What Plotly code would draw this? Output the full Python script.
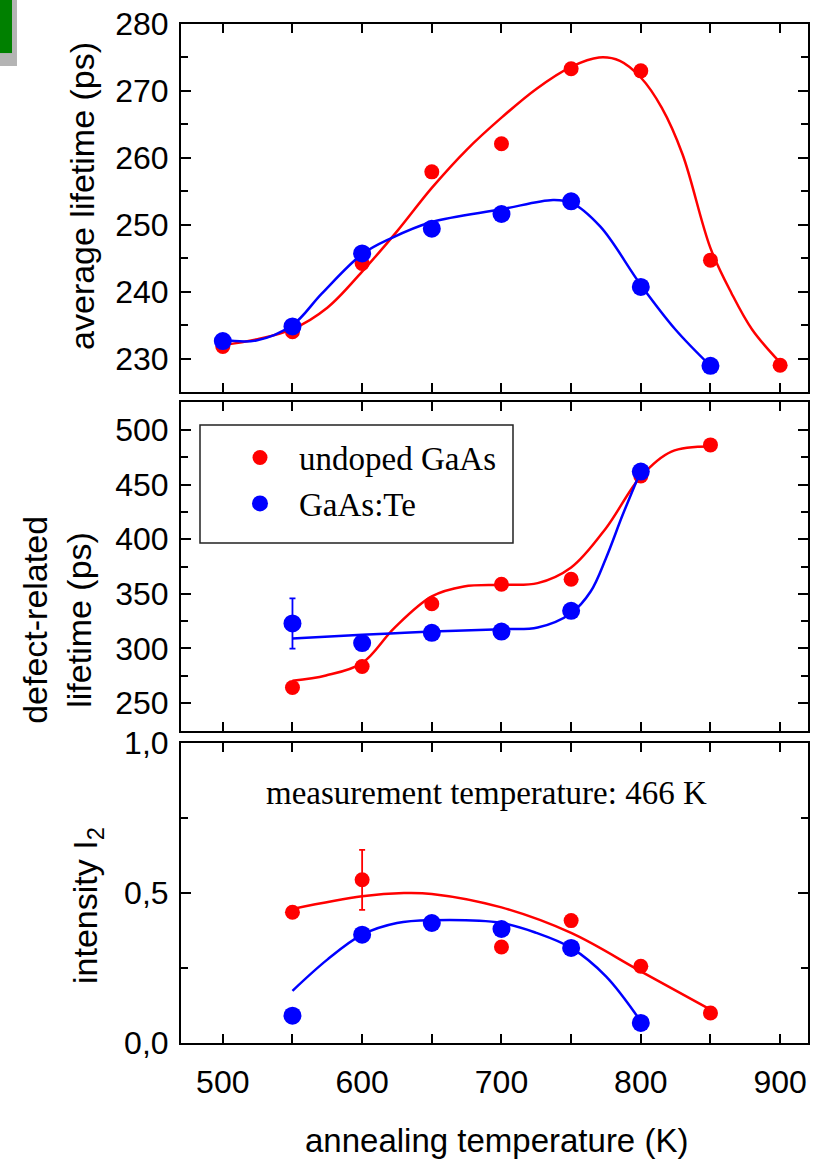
import plotly.graph_objects as go

# ---------------- data ----------------
# top panel: average lifetime (ps)
T_avg_red = [500, 550, 600, 650, 700, 750, 800, 850, 900]
avg_red = [231.8, 234.0, 244.2, 257.9, 262.1, 273.3, 273.0, 244.7, 229.0]
T_avg_blue = [500, 550, 600, 650, 700, 750, 800, 850]
avg_blue = [232.6, 234.8, 245.7, 249.4, 251.6, 253.5, 240.7, 228.9]

# fitted guide curves
T_avg_red_fit = [500, 525, 550, 575, 600, 625, 650, 675, 700, 725, 750, 770, 785, 800, 815, 830, 850, 865, 880, 900]
avg_red_fit = [232.0, 232.9, 234.4, 237.6, 243.0, 249.0, 255.5, 261.2, 266.0, 270.3, 273.6, 275.0, 274.5, 272.0, 267.5, 260.5, 246.5, 239.8, 234.3, 229.4]
T_avg_blue_fit = [500, 524, 550, 571, 600, 621, 650, 700, 737, 750, 771, 800, 825, 850]
avg_blue_fit = [232.8, 232.7, 235.0, 239.7, 245.6, 248.0, 250.4, 252.3, 253.7, 253.3, 249.7, 241.0, 234.3, 228.9]

# middle panel: defect-related lifetime (ps)
T_def_red = [550, 600, 650, 700, 750, 800, 850]
def_red = [264.3, 283.5, 340.9, 358.8, 363.4, 457.9, 486.3]
T_def_blue = [550, 600, 650, 700, 750, 800]
def_blue = [322.9, 304.9, 314.3, 315.5, 334.5, 461.9]
def_blue_err = [23, 0, 0, 0, 0, 0]

T_def_red_fit = [550, 574, 600, 623, 650, 673, 700, 726, 750, 775, 800, 822, 850]
def_red_fit = [270.4, 275.3, 286.6, 318.6, 347.6, 356.7, 358.2, 359.8, 374.1, 410.1, 457.3, 480.2, 484.8]
T_def_blue_fit = [550, 600, 650, 700, 726, 750, 764, 775, 787, 800]
def_blue_fit = [309.1, 312.5, 315.5, 317.7, 319.2, 332.3, 352.1, 382.6, 422.3, 462.5]

# bottom panel: intensity I2
T_int_red = [550, 600, 700, 750, 800, 850]
int_red = [0.436, 0.544, 0.32, 0.408, 0.256, 0.10]
int_red_err = [0, 0.10, 0, 0, 0, 0]
T_int_blue = [550, 600, 650, 700, 750, 800]
int_blue = [0.091, 0.361, 0.40, 0.38, 0.317, 0.067]

T_int_red_fit = [550, 600, 630, 650, 700, 750, 800, 850]
int_red_fit = [0.447, 0.489, 0.500, 0.497, 0.452, 0.367, 0.239, 0.111]
T_int_blue_fit = [550, 575, 600, 625, 650, 700, 725, 750, 775, 800]
int_blue_fit = [0.174, 0.278, 0.361, 0.400, 0.409, 0.400, 0.367, 0.317, 0.222, 0.072]

series_names = ["undoped GaAs", "GaAs:Te"]
x_tickvals = [500, 600, 700, 800, 900]
y3_tickvals = [0, 0.5, 1.0]
y3_ticktext = ["0,0", "0,5", "1,0"]

RED = "#ff0000"
BLUE = "#0000ff"
SANS = "Liberation Sans, Arial, sans-serif"
SERIF = "Liberation Serif, Times New Roman, serif"

fig = go.Figure()


def add_fit(x, y, color, xa, ya):
    fig.add_trace(go.Scatter(x=x, y=y, mode="lines", xaxis=xa, yaxis=ya,
                             line=dict(color=color, width=2.5, shape="spline", smoothing=1.0),
                             showlegend=False, hoverinfo="skip"))


def add_pts(x, y, color, size, xa, ya, name=None, legend=False, err=None):
    kw = {}
    if err is not None:
        kw["error_y"] = dict(type="data", array=err, color=color, thickness=1.8, width=3, visible=True)
    fig.add_trace(go.Scatter(x=x, y=y, mode="markers", xaxis=xa, yaxis=ya,
                             marker=dict(color=color, size=size, line=dict(width=0)),
                             name=name, showlegend=legend, **kw))


# top
add_fit(T_avg_red_fit, avg_red_fit, RED, "x", "y")
add_pts(T_avg_red, avg_red, RED, 15, "x", "y", series_names[0], True)
add_fit(T_avg_blue_fit, avg_blue_fit, BLUE, "x", "y")
add_pts(T_avg_blue, avg_blue, BLUE, 18, "x", "y", series_names[1], True)
# middle
add_fit(T_def_red_fit, def_red_fit, RED, "x2", "y2")
add_pts(T_def_red, def_red, RED, 15, "x2", "y2")
add_fit(T_def_blue_fit, def_blue_fit, BLUE, "x2", "y2")
add_pts(T_def_blue, def_blue, BLUE, 18, "x2", "y2", err=def_blue_err)
# bottom
add_fit(T_int_red_fit, int_red_fit, RED, "x3", "y3")
add_pts(T_int_red, int_red, RED, 15, "x3", "y3", err=int_red_err)
add_fit(T_int_blue_fit, int_blue_fit, BLUE, "x3", "y3")
add_pts(T_int_blue, int_blue, BLUE, 18, "x3", "y3")

minor_common = dict(ticks="inside", tickwidth=2, tickcolor="black", showgrid=False)
xcommon = dict(range=[470, 920], tickvals=x_tickvals, automargin=False,
               ticks="inside", ticklen=9, tickwidth=2, tickcolor="black",
               minor=dict(**minor_common, ticklen=9, dtick=50, tick0=0),
               showline=True, linewidth=2, linecolor="black", mirror="allticks",
               showgrid=False, zeroline=False,
               tickfont=dict(family=SANS, size=32, color="black"))
ycommon = dict(ticks="inside", ticklen=10, tickwidth=2, tickcolor="black", automargin=False,
               showline=True, linewidth=2, linecolor="black", mirror="allticks",
               showgrid=False, zeroline=False, ticklabelstandoff=4,
               tickfont=dict(family=SANS, size=32, color="black"))

fig.update_layout(
    width=823, height=1165,
    margin=dict(l=181, r=15, t=24, b=122),
    paper_bgcolor="white", plot_bgcolor="white",
    xaxis=dict(**xcommon, anchor="y", showticklabels=False),
    xaxis2=dict(**xcommon, anchor="y2", matches="x", showticklabels=False),
    xaxis3=dict(**xcommon, anchor="y3", matches="x", showticklabels=True, ticklabelstandoff=10),
    yaxis=dict(**ycommon, domain=[0.6389, 1.0], range=[225, 280], anchor="x",
               tickvals=[230, 240, 250, 260, 270, 280], minor=dict(**minor_common, ticklen=7, dtick=5, tick0=0)),
    yaxis2=dict(**ycommon, domain=[0.3062, 0.6290], range=[224.5, 525.5], anchor="x2",
                tickvals=[250, 300, 350, 400, 450, 500], minor=dict(**minor_common, ticklen=7, dtick=25, tick0=0)),
    yaxis3=dict(**ycommon, domain=[0.0, 0.2944], range=[0, 1.0], anchor="x3",
                tickvals=y3_tickvals, ticktext=y3_ticktext, minor=dict(**minor_common, ticklen=7, dtick=0.25, tick0=0)),
    legend=dict(x=0.0303, y=0.6020, xanchor="left", yanchor="top",
                bgcolor="rgba(0,0,0,0)", borderwidth=0,
                font=dict(family=SERIF, size=33, color="black"),
                itemsizing="trace", tracegroupgap=0, indentation=21, itemwidth=68),
    showlegend=True,
)

# legend frame (reference box)
fig.add_shape(type="rect", xref="paper", yref="paper", x0=0.0303, x1=0.5295, y0=0.4907, y1=0.6065,
              fillcolor="white", line=dict(color="#222222", width=1.5), layer="above")

ann = [
    dict(text="average lifetime (ps)", x=-0.1580, y=0.8312, textangle=-90, size=34),
    dict(text="defect-related<br>lifetime (ps)", x=-0.1980, y=0.4151, textangle=-90, size=34),
    dict(text="intensity I<sub>2</sub>", x=-0.1500, y=0.1354, textangle=-90, size=34),
    dict(text="annealing temperature (K)", x=0.5024, y=-0.0952, textangle=0, size=33),
]
for a in ann:
    fig.add_annotation(text=a["text"], x=a["x"], y=a["y"], xref="paper", yref="paper",
                       textangle=a["textangle"], showarrow=False, xanchor="center", yanchor="middle",
                       font=dict(family=SANS, size=a["size"], color="black"))

fig.add_annotation(text="measurement temperature: 466 K", x=689, y=0.835, xref="x3", yref="y3",
                   showarrow=False, xanchor="center", yanchor="middle",
                   font=dict(family=SERIF, size=33, color="black"))

# small decoration in the top-left corner of the reference image
fig.add_shape(type="rect", xref="paper", yref="paper", x0=-0.2887, x1=-0.2616, y0=0.9588, y1=1.03,
              fillcolor="#b4b4b4", line=dict(width=0), layer="above")
fig.add_shape(type="rect", xref="paper", yref="paper", x0=-0.2887, x1=-0.2695, y0=0.9715, y1=1.03,
              fillcolor="#008000", line=dict(width=0), layer="above")

fig.write_html("out.html", config={"displayModeBar": False},
               post_script="document.body.style.margin='0px';document.body.style.padding='0px';")
